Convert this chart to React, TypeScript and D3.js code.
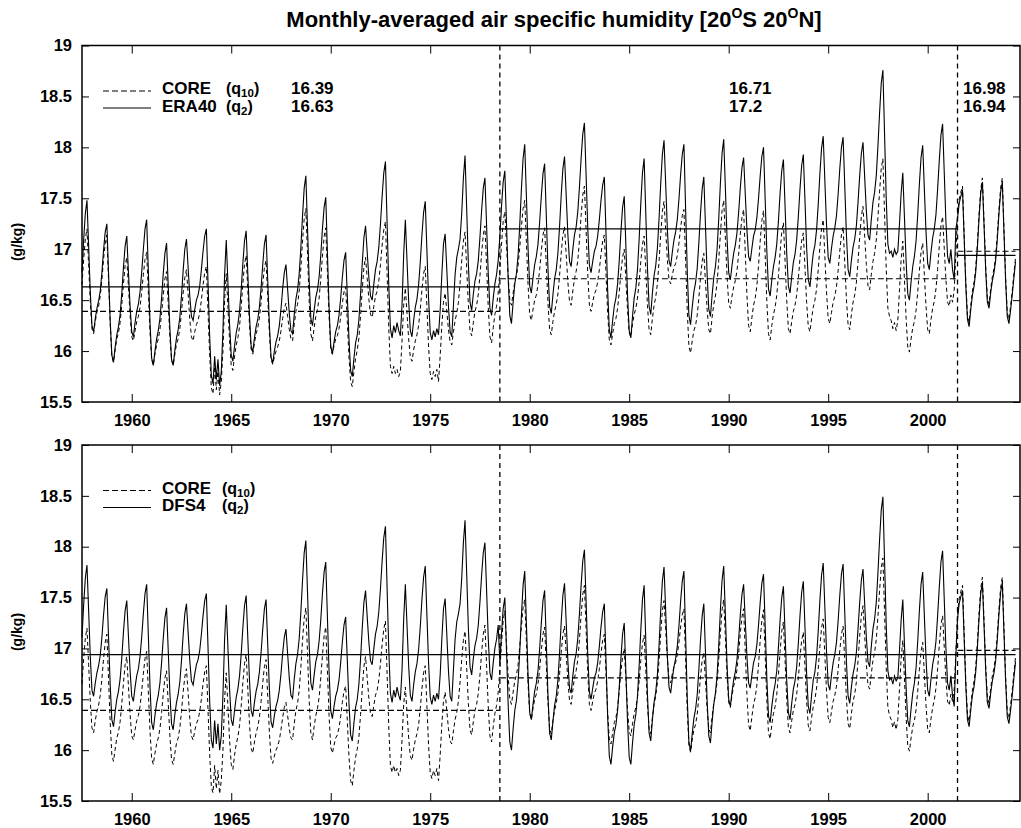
import React, { useEffect, useRef } from 'react';
import * as d3 from 'd3';

// monthly values, one row per year (Jan..Dec), 1958..2004
const years = d3.range(1958, 2005);

const era40 = [
  [16.77, 17.09, 17.35, 17.48, 17.03, 16.58, 16.25, 16.19, 16.32, 16.42, 16.49, 16.59],
  [16.77, 16.99, 17.17, 17.25, 16.77, 16.30, 15.96, 15.89, 16.04, 16.16, 16.24, 16.36],
  [16.57, 16.82, 17.03, 17.13, 16.78, 16.44, 16.19, 16.14, 16.28, 16.39, 16.46, 16.58],
  [16.77, 17.00, 17.20, 17.29, 16.79, 16.29, 15.93, 15.86, 16.00, 16.12, 16.20, 16.32],
  [16.52, 16.76, 16.96, 17.06, 16.64, 16.22, 15.92, 15.86, 16.01, 16.13, 16.21, 16.33],
  [16.54, 16.79, 17.00, 17.10, 16.82, 16.54, 16.34, 16.30, 16.41, 16.50, 16.55, 16.64],
  [16.80, 16.98, 17.13, 17.20, 16.67, 16.14, 15.76, 15.68, 15.95, 15.72, 15.92, 15.66],
  [15.80, 16.20, 16.75, 17.09, 16.67, 16.26, 15.96, 15.90, 16.05, 16.18, 16.26, 16.39],
  [16.60, 16.86, 17.08, 17.18, 16.76, 16.35, 16.05, 15.99, 16.13, 16.24, 16.31, 16.43],
  [16.62, 16.85, 17.05, 17.14, 16.70, 16.26, 15.94, 15.88, 16.00, 16.09, 16.15, 16.25],
  [16.41, 16.61, 16.77, 16.85, 16.61, 16.37, 16.20, 16.17, 16.36, 16.51, 16.60, 16.76],
  [17.02, 17.33, 17.60, 17.72, 17.21, 16.69, 16.32, 16.25, 16.40, 16.53, 16.60, 16.73],
  [16.94, 17.20, 17.41, 17.51, 16.97, 16.43, 16.05, 15.97, 16.09, 16.19, 16.25, 16.35],
  [16.52, 16.72, 16.89, 16.97, 16.54, 16.12, 15.81, 15.75, 15.93, 16.08, 16.16, 16.31],
  [16.56, 16.86, 17.11, 17.23, 16.97, 16.72, 16.54, 16.50, 16.66, 16.80, 16.88, 17.02],
  [17.25, 17.52, 17.75, 17.86, 17.25, 16.65, 16.22, 16.13, 16.25, 16.18, 16.28, 16.20],
  [16.15, 16.45, 16.95, 17.29, 16.89, 16.49, 16.20, 16.14, 16.30, 16.43, 16.51, 16.65],
  [16.87, 17.14, 17.36, 17.47, 16.99, 16.52, 16.18, 16.11, 16.20, 16.14, 16.22, 16.16],
  [16.40, 16.75, 17.05, 17.15, 16.80, 16.44, 16.19, 16.14, 16.45, 16.75, 16.92, 17.00],
  [17.10, 17.35, 17.70, 17.92, 17.39, 16.86, 16.48, 16.40, 16.56, 16.69, 16.76, 16.89],
  [17.12, 17.38, 17.60, 17.70, 17.23, 16.76, 16.42, 16.35, 16.52, 16.66, 16.75, 16.89],
  [17.13, 17.42, 17.66, 17.77, 17.25, 16.72, 16.35, 16.27, 16.48, 16.66, 16.76, 16.94],
  [17.24, 17.59, 17.89, 18.03, 17.52, 17.01, 16.64, 16.57, 16.72, 16.85, 16.93, 17.05],
  [17.27, 17.52, 17.74, 17.84, 17.33, 16.81, 16.44, 16.37, 16.55, 16.71, 16.80, 16.96],
  [17.22, 17.53, 17.79, 17.91, 17.53, 17.15, 16.88, 16.83, 17.00, 17.14, 17.22, 17.37],
  [17.61, 17.89, 18.13, 18.24, 17.73, 17.21, 16.84, 16.77, 16.88, 16.98, 17.03, 17.13],
  [17.29, 17.48, 17.63, 17.71, 17.16, 16.60, 16.21, 16.13, 16.30, 16.44, 16.52, 16.66],
  [16.89, 17.17, 17.41, 17.52, 17.03, 16.55, 16.20, 16.13, 16.34, 16.52, 16.62, 16.80],
  [17.10, 17.45, 17.75, 17.89, 17.35, 16.82, 16.44, 16.36, 16.57, 16.74, 16.84, 17.01],
  [17.30, 17.64, 17.93, 18.07, 17.64, 17.20, 16.89, 16.83, 16.97, 17.09, 17.17, 17.29],
  [17.49, 17.73, 17.93, 18.03, 17.41, 16.79, 16.35, 16.26, 16.43, 16.58, 16.67, 16.81],
  [17.06, 17.35, 17.59, 17.71, 17.23, 16.75, 16.41, 16.34, 16.55, 16.72, 16.83, 17.00],
  [17.30, 17.65, 17.94, 18.08, 17.60, 17.11, 16.77, 16.70, 16.84, 16.96, 17.04, 17.16],
  [17.36, 17.60, 17.80, 17.90, 17.54, 17.19, 16.93, 16.88, 17.01, 17.13, 17.19, 17.31],
  [17.50, 17.72, 17.91, 18.00, 17.49, 16.98, 16.61, 16.54, 16.70, 16.83, 16.92, 17.05],
  [17.28, 17.55, 17.77, 17.88, 17.42, 16.96, 16.64, 16.57, 16.73, 16.87, 16.95, 17.09],
  [17.32, 17.59, 17.82, 17.93, 17.48, 17.02, 16.70, 16.63, 16.81, 16.96, 17.04, 17.19],
  [17.44, 17.74, 17.99, 18.11, 17.67, 17.24, 16.92, 16.86, 17.01, 17.13, 17.21, 17.33],
  [17.54, 17.79, 18.00, 18.10, 17.62, 17.14, 16.80, 16.73, 16.89, 17.02, 17.10, 17.23],
  [17.46, 17.72, 17.94, 18.05, 17.71, 17.38, 17.14, 17.09, 17.29, 17.46, 17.56, 17.72],
  [18.01, 18.34, 18.63, 18.76, 18.13, 17.50, 17.05, 16.96, 16.98, 16.92, 17.00, 16.95],
  [16.98, 17.25, 17.55, 17.75, 17.31, 16.88, 16.56, 16.50, 16.68, 16.83, 16.93, 17.08],
  [17.34, 17.64, 17.90, 18.02, 17.59, 17.17, 16.86, 16.80, 16.97, 17.11, 17.20, 17.34],
  [17.59, 17.87, 18.12, 18.23, 17.75, 17.27, 16.93, 16.86, 17.00, 16.80, 16.70, 17.20],
  [17.30, 17.45, 17.52, 17.58, 17.11, 16.64, 16.31, 16.24, 16.41, 16.55, 16.64, 16.78],
  [17.02, 17.31, 17.55, 17.66, 17.23, 16.79, 16.48, 16.42, 16.57, 16.69, 16.77, 16.89],
  [17.10, 17.35, 17.56, 17.66, 17.17, 16.69, 16.34, 16.27, 16.40, 16.55, 16.72, 16.88],
];

const core = [
  [16.65, 16.90, 17.10, 17.20, 16.84, 16.48, 16.22, 16.17, 16.29, 16.38, 16.44, 16.54],
  [16.70, 16.90, 17.06, 17.14, 16.70, 16.27, 15.95, 15.89, 16.01, 16.12, 16.18, 16.28],
  [16.46, 16.66, 16.84, 16.92, 16.63, 16.35, 16.14, 16.10, 16.20, 16.29, 16.34, 16.43],
  [16.58, 16.75, 16.90, 16.97, 16.58, 16.19, 15.92, 15.86, 15.97, 16.06, 16.12, 16.21],
  [16.37, 16.55, 16.71, 16.78, 16.46, 16.14, 15.91, 15.86, 15.97, 16.07, 16.12, 16.22],
  [16.38, 16.57, 16.72, 16.80, 16.56, 16.31, 16.14, 16.10, 16.19, 16.26, 16.30, 16.38],
  [16.50, 16.65, 16.77, 16.83, 16.39, 15.96, 15.64, 15.58, 15.85, 15.62, 15.80, 15.57],
  [15.70, 16.00, 16.50, 16.76, 16.43, 16.10, 15.86, 15.81, 15.95, 16.06, 16.13, 16.24],
  [16.43, 16.66, 16.85, 16.94, 16.60, 16.26, 16.02, 15.97, 16.08, 16.17, 16.23, 16.32],
  [16.48, 16.66, 16.82, 16.89, 16.53, 16.18, 15.92, 15.87, 15.94, 16.00, 16.04, 16.10],
  [16.20, 16.32, 16.42, 16.47, 16.34, 16.21, 16.12, 16.10, 16.26, 16.39, 16.46, 16.59],
  [16.82, 17.08, 17.30, 17.40, 16.95, 16.49, 16.17, 16.10, 16.23, 16.34, 16.41, 16.52],
  [16.71, 16.93, 17.12, 17.21, 16.78, 16.34, 16.03, 15.97, 16.05, 16.12, 16.15, 16.22],
  [16.33, 16.47, 16.58, 16.63, 16.29, 15.94, 15.70, 15.65, 15.80, 15.93, 16.01, 16.13],
  [16.35, 16.60, 16.82, 16.92, 16.71, 16.51, 16.36, 16.33, 16.44, 16.54, 16.59, 16.69],
  [16.85, 17.04, 17.19, 17.27, 16.75, 16.23, 15.85, 15.78, 15.85, 15.78, 15.82, 15.75],
  [15.80, 16.10, 16.45, 16.62, 16.37, 16.12, 15.94, 15.90, 16.01, 16.10, 16.16, 16.25],
  [16.41, 16.60, 16.76, 16.83, 16.44, 16.05, 15.78, 15.72, 15.80, 15.75, 15.82, 15.70],
  [15.95, 16.25, 16.48, 16.57, 16.39, 16.21, 16.09, 16.06, 16.19, 16.30, 16.37, 16.48],
  [16.67, 16.89, 17.08, 17.17, 16.81, 16.46, 16.20, 16.15, 16.28, 16.39, 16.45, 16.56],
  [16.74, 16.96, 17.14, 17.23, 16.83, 16.43, 16.14, 16.08, 16.23, 16.36, 16.44, 16.57],
  [16.79, 17.05, 17.27, 17.37, 17.05, 16.73, 16.50, 16.45, 16.57, 16.68, 16.74, 16.84],
  [17.02, 17.22, 17.40, 17.48, 17.07, 16.65, 16.36, 16.30, 16.41, 16.50, 16.55, 16.65],
  [16.80, 16.98, 17.14, 17.21, 16.84, 16.48, 16.21, 16.16, 16.29, 16.39, 16.46, 16.56],
  [16.74, 16.96, 17.14, 17.22, 16.95, 16.68, 16.49, 16.45, 16.59, 16.71, 16.78, 16.89],
  [17.09, 17.33, 17.53, 17.62, 17.19, 16.76, 16.45, 16.39, 16.48, 16.56, 16.60, 16.68],
  [16.80, 16.95, 17.08, 17.14, 16.76, 16.38, 16.11, 16.06, 16.17, 16.27, 16.32, 16.42],
  [16.58, 16.77, 16.92, 17.00, 16.70, 16.40, 16.18, 16.14, 16.26, 16.36, 16.42, 16.52],
  [16.68, 16.88, 17.05, 17.13, 16.79, 16.45, 16.21, 16.16, 16.32, 16.45, 16.53, 16.66],
  [16.88, 17.14, 17.37, 17.47, 17.19, 16.90, 16.70, 16.66, 16.75, 16.82, 16.86, 16.94],
  [17.06, 17.21, 17.33, 17.39, 16.90, 16.40, 16.05, 15.98, 16.10, 16.20, 16.25, 16.35],
  [16.52, 16.72, 16.88, 16.96, 16.68, 16.41, 16.21, 16.17, 16.33, 16.46, 16.54, 16.67],
  [16.89, 17.15, 17.38, 17.48, 17.11, 16.74, 16.47, 16.42, 16.54, 16.63, 16.69, 16.79],
  [16.95, 17.15, 17.31, 17.39, 16.97, 16.55, 16.25, 16.19, 16.33, 16.45, 16.52, 16.64],
  [16.84, 17.08, 17.28, 17.38, 16.94, 16.49, 16.17, 16.11, 16.25, 16.36, 16.43, 16.55],
  [16.74, 16.97, 17.17, 17.26, 16.88, 16.50, 16.22, 16.17, 16.29, 16.39, 16.45, 16.55],
  [16.71, 16.91, 17.08, 17.16, 16.82, 16.48, 16.24, 16.19, 16.32, 16.43, 16.50, 16.61],
  [16.80, 17.02, 17.20, 17.29, 16.93, 16.58, 16.32, 16.27, 16.38, 16.48, 16.54, 16.63],
  [16.79, 16.98, 17.14, 17.22, 16.87, 16.51, 16.26, 16.21, 16.36, 16.48, 16.55, 16.67],
  [16.88, 17.12, 17.32, 17.42, 17.13, 16.85, 16.64, 16.60, 16.75, 16.88, 16.96, 17.09],
  [17.31, 17.57, 17.79, 17.89, 17.35, 16.81, 16.42, 16.34, 16.30, 16.22, 16.28, 16.20],
  [16.30, 16.60, 16.90, 17.08, 16.70, 16.32, 16.04, 15.99, 16.12, 16.23, 16.29, 16.40],
  [16.58, 16.79, 16.97, 17.06, 16.75, 16.44, 16.21, 16.17, 16.31, 16.42, 16.49, 16.61],
  [16.80, 17.03, 17.23, 17.32, 17.01, 16.70, 16.48, 16.44, 16.55, 16.48, 16.60, 16.95],
  [17.34, 17.49, 17.56, 17.62, 17.15, 16.68, 16.35, 16.28, 16.45, 16.59, 16.68, 16.82],
  [17.06, 17.35, 17.59, 17.70, 17.27, 16.83, 16.52, 16.46, 16.61, 16.73, 16.81, 16.93],
  [17.14, 17.39, 17.60, 17.70, 17.21, 16.73, 16.38, 16.31, 16.44, 16.59, 16.76, 16.92],
];

const dfs4 = [
  [17.11, 17.43, 17.69, 17.82, 17.37, 16.92, 16.59, 16.53, 16.66, 16.76, 16.83, 16.93],
  [17.11, 17.33, 17.51, 17.59, 17.11, 16.64, 16.30, 16.23, 16.38, 16.50, 16.58, 16.70],
  [16.91, 17.16, 17.37, 17.47, 17.12, 16.78, 16.53, 16.48, 16.62, 16.73, 16.80, 16.92],
  [17.11, 17.34, 17.54, 17.63, 17.13, 16.63, 16.27, 16.20, 16.34, 16.46, 16.54, 16.66],
  [16.86, 17.10, 17.30, 17.40, 16.98, 16.56, 16.26, 16.20, 16.35, 16.47, 16.55, 16.67],
  [16.88, 17.13, 17.34, 17.44, 17.16, 16.88, 16.68, 16.64, 16.75, 16.84, 16.89, 16.98],
  [17.14, 17.32, 17.47, 17.54, 17.01, 16.48, 16.10, 16.02, 16.29, 16.06, 16.26, 16.00],
  [16.14, 16.54, 17.09, 17.43, 17.01, 16.60, 16.30, 16.24, 16.39, 16.52, 16.60, 16.73],
  [16.94, 17.20, 17.42, 17.52, 17.10, 16.69, 16.39, 16.33, 16.47, 16.58, 16.65, 16.77],
  [16.96, 17.19, 17.39, 17.48, 17.04, 16.60, 16.28, 16.22, 16.34, 16.43, 16.49, 16.59],
  [16.75, 16.95, 17.11, 17.19, 16.95, 16.71, 16.54, 16.51, 16.70, 16.85, 16.94, 17.10],
  [17.36, 17.67, 17.94, 18.06, 17.55, 17.03, 16.66, 16.59, 16.74, 16.87, 16.94, 17.07],
  [17.28, 17.54, 17.75, 17.85, 17.31, 16.77, 16.39, 16.31, 16.43, 16.53, 16.59, 16.69],
  [16.86, 17.06, 17.23, 17.31, 16.88, 16.46, 16.15, 16.09, 16.27, 16.42, 16.50, 16.65],
  [16.90, 17.20, 17.45, 17.57, 17.31, 17.06, 16.88, 16.84, 17.00, 17.14, 17.22, 17.36],
  [17.59, 17.86, 18.09, 18.20, 17.59, 16.99, 16.56, 16.47, 16.59, 16.52, 16.62, 16.54],
  [16.49, 16.79, 17.29, 17.63, 17.23, 16.83, 16.54, 16.48, 16.64, 16.77, 16.85, 16.99],
  [17.21, 17.48, 17.70, 17.81, 17.33, 16.86, 16.52, 16.45, 16.54, 16.48, 16.56, 16.50],
  [16.74, 17.09, 17.39, 17.49, 17.14, 16.78, 16.53, 16.48, 16.79, 17.09, 17.26, 17.34],
  [17.44, 17.69, 18.04, 18.26, 17.73, 17.20, 16.82, 16.74, 16.90, 17.03, 17.10, 17.23],
  [17.46, 17.72, 17.94, 18.04, 17.57, 17.10, 16.76, 16.69, 16.86, 17.00, 17.09, 17.23],
  [16.86, 17.15, 17.39, 17.50, 16.98, 16.45, 16.08, 16.00, 16.21, 16.39, 16.49, 16.67],
  [16.97, 17.32, 17.62, 17.76, 17.25, 16.74, 16.37, 16.30, 16.45, 16.58, 16.66, 16.78],
  [17.00, 17.25, 17.47, 17.57, 17.06, 16.54, 16.17, 16.10, 16.28, 16.44, 16.53, 16.69],
  [16.95, 17.26, 17.52, 17.64, 17.26, 16.88, 16.61, 16.56, 16.73, 16.87, 16.95, 17.10],
  [17.34, 17.62, 17.86, 17.97, 17.46, 16.94, 16.57, 16.50, 16.61, 16.71, 16.76, 16.86],
  [17.02, 17.21, 17.36, 17.44, 16.89, 16.33, 15.94, 15.86, 16.03, 16.17, 16.25, 16.39],
  [16.62, 16.90, 17.14, 17.25, 16.76, 16.28, 15.93, 15.86, 16.07, 16.25, 16.35, 16.53],
  [16.83, 17.18, 17.48, 17.62, 17.08, 16.55, 16.17, 16.09, 16.30, 16.47, 16.57, 16.74],
  [17.03, 17.37, 17.66, 17.80, 17.37, 16.93, 16.62, 16.56, 16.70, 16.82, 16.90, 17.02],
  [17.22, 17.46, 17.66, 17.76, 17.14, 16.52, 16.08, 15.99, 16.16, 16.31, 16.40, 16.54],
  [16.79, 17.08, 17.32, 17.44, 16.96, 16.48, 16.14, 16.07, 16.28, 16.45, 16.56, 16.73],
  [17.03, 17.38, 17.67, 17.81, 17.33, 16.84, 16.50, 16.43, 16.57, 16.69, 16.77, 16.89],
  [17.09, 17.33, 17.53, 17.63, 17.27, 16.92, 16.66, 16.61, 16.74, 16.86, 16.92, 17.04],
  [17.23, 17.45, 17.64, 17.73, 17.22, 16.71, 16.34, 16.27, 16.43, 16.56, 16.65, 16.78],
  [17.01, 17.28, 17.50, 17.61, 17.15, 16.69, 16.37, 16.30, 16.46, 16.60, 16.68, 16.82],
  [17.05, 17.32, 17.55, 17.66, 17.21, 16.75, 16.43, 16.36, 16.54, 16.69, 16.77, 16.92],
  [17.17, 17.47, 17.72, 17.84, 17.40, 16.97, 16.65, 16.59, 16.74, 16.86, 16.94, 17.06],
  [17.27, 17.52, 17.73, 17.83, 17.35, 16.87, 16.53, 16.46, 16.62, 16.75, 16.83, 16.96],
  [17.19, 17.45, 17.67, 17.78, 17.44, 17.11, 16.87, 16.82, 17.02, 17.19, 17.29, 17.45],
  [17.74, 18.07, 18.36, 18.49, 17.86, 17.23, 16.78, 16.69, 16.71, 16.65, 16.73, 16.68],
  [16.71, 16.98, 17.28, 17.48, 17.04, 16.61, 16.29, 16.23, 16.41, 16.56, 16.66, 16.81],
  [17.07, 17.37, 17.63, 17.75, 17.32, 16.90, 16.59, 16.53, 16.70, 16.84, 16.93, 17.07],
  [17.32, 17.60, 17.85, 17.96, 17.48, 17.00, 16.66, 16.59, 16.73, 16.53, 16.43, 16.93],
  [17.29, 17.44, 17.51, 17.57, 17.10, 16.63, 16.30, 16.23, 16.40, 16.54, 16.63, 16.77],
  [17.01, 17.30, 17.54, 17.65, 17.22, 16.78, 16.47, 16.41, 16.56, 16.68, 16.76, 16.88],
  [17.09, 17.34, 17.55, 17.65, 17.16, 16.68, 16.33, 16.26, 16.39, 16.54, 16.71, 16.87],
];

// period means (1958-78, 1979-2001, 2002-04)
const coreMeans = [16.39, 16.71, 16.98];
const era40Means = [16.63, 17.2, 16.94];
const dfs4Mean = 16.94;
const breaks = [1978.5, 2001.5];

const yTicks = [15.5, 16, 16.5, 17, 17.5, 18, 18.5, 19];
const xTicks = [1960, 1965, 1970, 1975, 1980, 1985, 1990, 1995, 2000];

const FONT = "'Liberation Sans', Arial, Helvetica, sans-serif";

function toPoints(rows: number[][]) {
  return rows.flatMap((row, i) => row.map((v, m) => ({ t: years[i] - 0.5 + m / 12, v })));
}

export default function App() {
  const svgRef = useRef<SVGSVGElement>(null);

  useEffect(() => {
    if (!svgRef.current) return;
    const svg = d3.select(svgRef.current);
    svg.selectAll('*').remove();

    const left = 82;
    const right = 1020;
    const tStart = years[0] - 0.5;
    const tEnd = years[years.length - 1] - 0.5 + 11 / 12;
    const x = d3.scaleLinear().domain([1957.5, 2004.64]).range([left, right]);
    const segs = [tStart, ...breaks, tEnd];

    // title
    const title = svg
      .append('text')
      .attr('x', 554)
      .attr('y', 27)
      .attr('text-anchor', 'middle')
      .style('font-family', FONT)
      .style('font-size', '22px')
      .style('font-weight', 'bold');
    title.append('tspan').text('Monthly-averaged air specific humidity [20');
    title.append('tspan').attr('dy', -9).style('font-size', '14px').text('O');
    title.append('tspan').attr('dy', 9).text('S 20');
    title.append('tspan').attr('dy', -9).style('font-size', '14px').text('O');
    title.append('tspan').attr('dy', 9).text('N]');

    const panels = [
      { top: 45.5, bottom: 402, solid: era40, name: 'ERA40', label: 242 },
      { top: 445, bottom: 801, solid: dfs4, name: 'DFS4', label: 632 },
    ];

    panels.forEach((p, pi) => {
      const y = d3.scaleLinear().domain([15.5, 19]).range([p.bottom, p.top]);
      const g = svg.append('g');

      const styleAxis = (sel: any) => {
        sel.select('.domain').remove();
        sel.selectAll('line').attr('stroke', '#000').attr('stroke-width', 1);
        sel
          .selectAll('text')
          .style('font-family', FONT)
          .style('font-size', '16.5px')
          .style('font-weight', 'bold')
          .attr('fill', '#000');
      };

      g.append('g')
        .attr('transform', `translate(${left},0)`)
        .call(d3.axisLeft(y).tickValues(yTicks).tickSizeInner(-7).tickSizeOuter(0).tickPadding(10).tickFormat(d3.format('~g')))
        .call(styleAxis);
      g.append('g')
        .attr('transform', `translate(${right},0)`)
        .call(d3.axisRight(y).tickValues(yTicks).tickSizeInner(-7).tickSizeOuter(0).tickFormat(() => ''))
        .call(styleAxis);
      g.append('g')
        .attr('transform', `translate(0,${p.bottom})`)
        .call(d3.axisBottom(x).tickValues(xTicks).tickSizeInner(-8).tickSizeOuter(0).tickPadding(12).tickFormat(d3.format('d')))
        .call(styleAxis);
      g.append('g')
        .attr('transform', `translate(0,${p.top})`)
        .call(d3.axisTop(x).tickValues(xTicks).tickSizeInner(-8).tickSizeOuter(0).tickFormat(() => ''))
        .call(styleAxis);

      g.append('rect')
        .attr('x', left)
        .attr('y', p.top)
        .attr('width', right - left)
        .attr('height', p.bottom - p.top)
        .attr('fill', 'none')
        .attr('stroke', '#000')
        .attr('stroke-width', 1.5);

      // y title
      g.append('text')
        .attr('transform', `translate(22,${p.label}) rotate(-90)`)
        .attr('text-anchor', 'middle')
        .style('font-family', FONT)
        .style('font-size', '14px')
        .style('font-weight', 'bold')
        .text('(g/kg)');

      // period separators
      breaks.forEach((b) => {
        g.append('line')
          .attr('x1', x(b))
          .attr('x2', x(b))
          .attr('y1', p.top)
          .attr('y2', p.bottom)
          .attr('stroke', '#000')
          .attr('stroke-width', 1.3)
          .attr('stroke-dasharray', '5,4');
      });

      // means
      coreMeans.forEach((m, i) => {
        g.append('line')
          .attr('x1', x(segs[i]))
          .attr('x2', x(segs[i + 1]))
          .attr('y1', y(m))
          .attr('y2', y(m))
          .attr('stroke', '#000')
          .attr('stroke-width', 1.2)
          .attr('stroke-dasharray', '6,3');
      });
      const solidMeans = pi === 0 ? era40Means.map((m, i) => [segs[i], segs[i + 1], m]) : [[tStart, tEnd, dfs4Mean]];
      solidMeans.forEach(([a, b, m]) => {
        g.append('line')
          .attr('x1', x(a))
          .attr('x2', x(b))
          .attr('y1', y(m))
          .attr('y2', y(m))
          .attr('stroke', '#000')
          .attr('stroke-width', 1.2);
      });

      const line = d3
        .line<{ t: number; v: number }>()
        .x((d) => x(d.t))
        .y((d) => y(d.v));

      g.append('path')
        .datum(toPoints(core))
        .attr('d', line)
        .attr('fill', 'none')
        .attr('stroke', '#000')
        .attr('stroke-width', 1)
        .attr('stroke-dasharray', '4,3');
      g.append('path')
        .datum(toPoints(p.solid))
        .attr('d', line)
        .attr('fill', 'none')
        .attr('stroke', '#000')
        .attr('stroke-width', 1.1);

      // legend
      const ly = p.top + 45.5;
      const leg = g.append('g').style('font-family', FONT).style('font-weight', 'bold').style('font-size', '17px');
      leg.append('line').attr('x1', 103).attr('x2', 151).attr('y1', ly).attr('y2', ly)
        .attr('stroke', '#000').attr('stroke-width', 1.2).attr('stroke-dasharray', '6,3');
      leg.append('line').attr('x1', 103).attr('x2', 151).attr('y1', ly + 17).attr('y2', ly + 17)
        .attr('stroke', '#000').attr('stroke-width', 1.2);
      const rows = [
        { name: 'CORE', sub: '10', yy: ly + 3 },
        { name: p.name, sub: '2', yy: ly + 20.5 },
      ];
      rows.forEach((r) => {
        leg.append('text').attr('x', 162).attr('y', r.yy).text(r.name);
        const q = leg.append('text').attr('x', pi === 0 ? 226 : 222).attr('y', r.yy).style('font-size', '16px');
        q.append('tspan').text('(q');
        q.append('tspan').attr('dy', 3).style('font-size', '11.5px').text(r.sub);
        q.append('tspan').attr('dy', -3).text(')');
      });

      if (pi === 0) {
        const xs = [291, 729, 963];
        xs.forEach((xx, i) => {
          leg.append('text').attr('x', xx).attr('y', ly + 2.5).text(String(coreMeans[i]));
          leg.append('text').attr('x', xx).attr('y', ly + 21).text(String(era40Means[i]));
        });
      }
    });
  }, []);

  return (
    <div style={{ position: 'absolute', left: 0, top: 0, background: '#fff' }}>
      <svg ref={svgRef} width={1021} height={828} style={{ display: 'block' }} />
    </div>
  );
}
